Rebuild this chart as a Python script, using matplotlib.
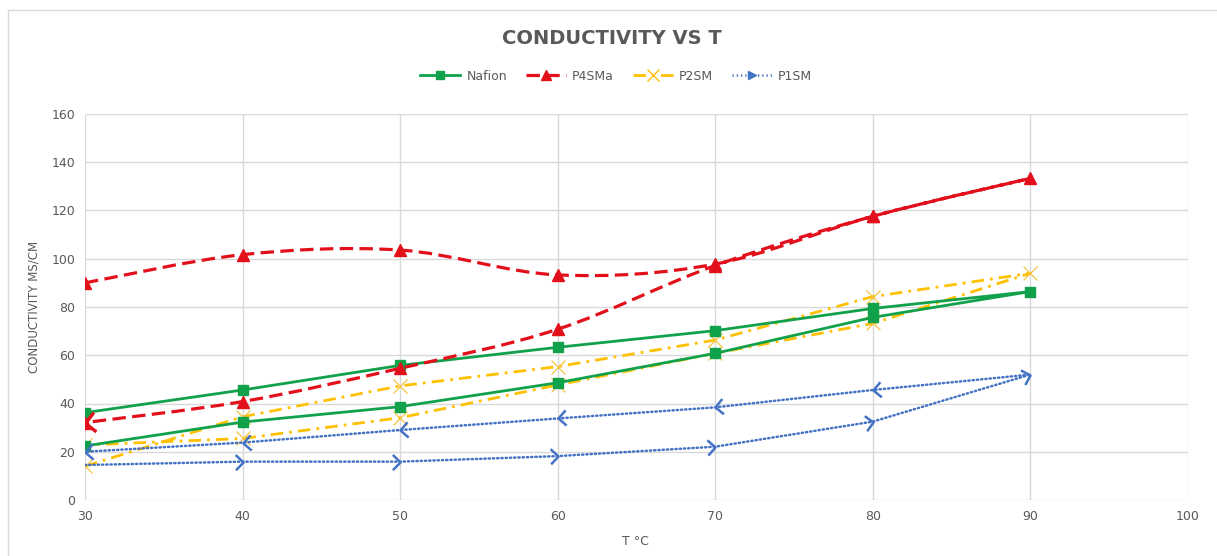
import numpy as np
import matplotlib
matplotlib.use('Agg')
import matplotlib.pyplot as plt
from matplotlib.path import Path
from matplotlib.patches import PathPatch, Rectangle
from matplotlib.markers import MarkerStyle
from matplotlib.transforms import Affine2D
from matplotlib.lines import Line2D

# temperatures, heating run then cooling run
temps = [30, 40, 50, 60, 70, 80, 90]

nafion_heat = [22.4, 32.3, 38.7, 48.6, 60.8, 75.7, 86.4]
nafion_cool = [86.4, 79.4, 70.2, 63.3, 55.8, 45.6, 36.2]

p4sma_heat = [90.0, 101.7, 103.6, 93.3, 97.8, 117.6, 133.3]
p4sma_cool = [133.3, 117.6, 97.2, 70.8, 54.6, 40.8, 32.1]

p2sm_heat = [14.0, 34.5, 47.3, 55.3, 66.3, 84.3, 94.0]
p2sm_cool = [94.0, 73.2, 60.8, 47.7, 34.1, 25.5, 22.8]

p1sm_heat = [14.5, 15.9, 15.9, 18.2, 22.1, 32.5, 52.0]
p1sm_cool = [52.0, 45.6, 38.4, 33.8, 29.0, 23.8, 20.0]

names = ['Nafion', 'P4SMa', 'P2SM', 'P1SM']

GREEN = '#12a14b'
RED = '#e3101c'
GOLD = '#ffc000'
BLUE = '#4472c4'
TXT = '#595959'
GRID = '#d9d9d9'

RED_LS = (0, (4.2, 2.0))
GOLD_LS = (0, (4.5, 2.2, 1, 2.2))
BLUE_LS = (0, (0.5, 1.2))


def loop(heat, cool):
    x = np.array(temps + temps[::-1][1:], dtype=float)
    y = np.array(heat + cool[1:], dtype=float)
    return x, y


def smooth_path(x, y):
    # excel style smoothed line (catmull-rom as cubic bezier)
    pts = np.column_stack([x, y])
    n = len(pts)
    verts = [pts[0]]
    codes = [Path.MOVETO]
    tang = []
    for i in range(n - 1):
        p0 = pts[max(i - 1, 0)]
        p1 = pts[i]
        p2 = pts[i + 1]
        p3 = pts[min(i + 2, n - 1)]
        c1 = p1 + (p2 - p0) / 6.0
        c2 = p2 - (p3 - p1) / 6.0
        verts += [c1, c2, p2]
        codes += [Path.CURVE4] * 3
        tang.append(p2 - c2 if np.any(p2 - c2) else p2 - p1)
    return Path(verts, codes), tang


chevron = Path([(-1, 1), (0, 0), (-1, -1)],
               [Path.MOVETO, Path.LINETO, Path.LINETO])


def arrow_head(ax, xp, yp, d, color, size=9, lw=1.6, z=5):
    a = ax.transData.transform([(xp, yp), (xp + d[0] * 1e-3, yp + d[1] * 1e-3)])
    ang = np.degrees(np.arctan2(a[1, 1] - a[0, 1], a[1, 0] - a[0, 0]))
    m = MarkerStyle(chevron, transform=Affine2D().rotate_deg(ang))
    ax.plot([xp], [yp], marker=m, ms=size, mfc='none', mec=color,
            mew=lw, ls='none', zorder=z)


fig = plt.figure(figsize=(12.17, 5.56), dpi=100)
fig.patches.append(Rectangle((8 / 1217, -0.01), 1.0, 1 - 10 / 556 + 0.01,
                             transform=fig.transFigure, fill=False,
                             edgecolor=GRID, lw=1.0))
ax = fig.add_axes([85 / 1217, 56 / 556, 1103 / 1217, 386 / 556])
ax.set_xlim(30, 100)
ax.set_ylim(0, 160)
ax.set_xticks(range(30, 101, 10))
ax.set_yticks(range(0, 161, 20))
ax.grid(True, color=GRID, lw=1.0)
ax.set_axisbelow(True)
for s in ax.spines.values():
    s.set_visible(False)
ax.tick_params(length=0, labelsize=9, labelcolor=TXT, pad=7)

# Nafion
x, y = loop(nafion_heat, nafion_cool)
ax.plot(x, y, color=GREEN, lw=2.0, marker='s', ms=7.5, zorder=3)

# P4SMa (smoothed line, arrow at the end)
x, y = loop(p4sma_heat, p4sma_cool)
path, tang = smooth_path(x, y)
ax.add_patch(PathPatch(path, fill=False, edgecolor=RED, lw=2.3,
                       linestyle=RED_LS, zorder=4))
ax.plot(x, y, ls='none', marker='^', ms=8.5, color=RED, zorder=4)
arrow_head(ax, x[-1], y[-1], tang[-1], RED, size=14, lw=2.4, z=4.5)

# P2SM
x, y = loop(p2sm_heat, p2sm_cool)
ax.plot(x, y, color=GOLD, lw=2.0, ls=GOLD_LS, zorder=2)
ax.plot(x, y, ls='none', marker='x', ms=10, mew=0.9, color='#f5c542', zorder=2)

# P1SM, arrow at the end of every segment
x, y = loop(p1sm_heat, p1sm_cool)
ax.plot(x, y, color=BLUE, lw=1.8, ls=BLUE_LS, dash_capstyle='round', zorder=5)
for i in range(1, len(x)):
    arrow_head(ax, x[i], y[i], (x[i] - x[i - 1], y[i] - y[i - 1]), BLUE,
               size=11, lw=1.8, z=5)

ax.set_xlabel('T °C', fontsize=9, color=TXT)
ax.xaxis.set_label_coords((635 - 85) / 1103, -0.09)
ax.set_ylabel('CONDUCTIVITY MS/CM', fontsize=8.5, color=TXT, labelpad=8)

fig.text(612 / 1217, 1 - 38 / 556, 'CONDUCTIVITY VS T', ha='center', va='center',
         fontsize=14, fontweight='bold', color=TXT, family='DejaVu Sans')

handles = [
    Line2D([], [], color=GREEN, lw=2.0, marker='s', ms=6),
    Line2D([], [], color=RED, lw=2.3, ls=RED_LS, marker='^', ms=7),
    Line2D([], [], color=GOLD, lw=2.0, ls=GOLD_LS, marker='x', ms=8),
    Line2D([], [], color=BLUE, lw=1.8, ls=BLUE_LS, marker='>', ms=6,
           mfc=BLUE, mec=BLUE),
]
fig.legend(handles, names, loc='center', bbox_to_anchor=(616 / 1217, 1 - 76 / 556),
           ncol=4, frameon=False, fontsize=9, labelcolor=TXT, handlelength=3.2,
           columnspacing=1.5, handletextpad=0.5)

fig.savefig('out.png', dpi=100)
